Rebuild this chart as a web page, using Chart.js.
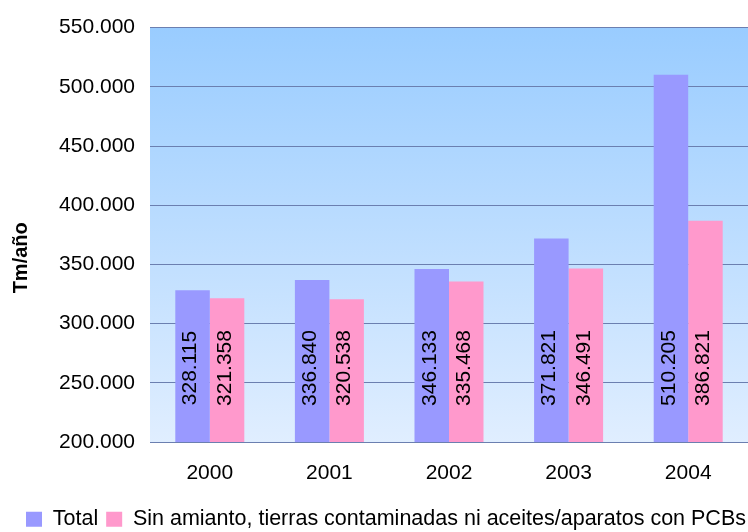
<!DOCTYPE html>
<html>
<head>
<meta charset="utf-8">
<script src="https://cdn.jsdelivr.net/npm/chart.js@4"></script>
<style>
  html, body { margin: 0; padding: 0; background: #ffffff; }
  #wrap { width: 748px; height: 532px; }
</style>
</head>
<body>
<div id="wrap"><canvas id="myChart"></canvas></div>
<script>
// Datos
const years = ['2000', '2001', '2002', '2003', '2004'];
const totalValues = [328115, 336840, 346133, 371821, 510205];
const sinAmiantoValues = [321358, 320538, 335468, 346491, 386821];
const seriesNames = ['Total', 'Sin amianto, tierras contaminadas ni aceites/aparatos con PCBs'];
const yTicks = [200000, 250000, 300000, 350000, 400000, 450000, 500000, 550000];
const yTitle = 'Tm/año';

const FONT = '"Liberation Sans", Arial, sans-serif';

// 550000 -> "550.000"
function formatMiles(v) {
    return String(Math.round(v)).replace(/\B(?=(\d{3})+(?!\d))/g, '.');
}

// Fondo degradado del area de trazado
const plotBackground = {
    id: 'plotBackground',
    beforeDraw(chart) {
        const { ctx, chartArea } = chart;
        const g = ctx.createLinearGradient(0, chartArea.top, 0, chartArea.bottom);
        g.addColorStop(0, '#99ccff');
        g.addColorStop(1, '#e0eeff');
        ctx.save();
        ctx.fillStyle = g;
        ctx.fillRect(chartArea.left, chartArea.top, chartArea.right - chartArea.left, chartArea.bottom - chartArea.top);
        ctx.restore();
    }
};

// Desplaza un poco la leyenda a la derecha (como en el original)
const legendShift = {
    id: 'legendShift',
    afterLayout(chart) {
        if (chart.legend) {
            chart.legend.left += 8;
            chart.legend.right += 8;
        }
    }
};

// Etiquetas verticales dentro de las barras + titulo del eje Y
const barLabels = {
    id: 'barLabels',
    afterDraw(chart) {
        const ctx = chart.ctx;
        const area = chart.chartArea;
        const base = chart.scales.y.bottom;
        ctx.save();
        ctx.font = '21px ' + FONT;
        ctx.fillStyle = '#000000';
        ctx.textAlign = 'center';
        ctx.textBaseline = 'middle';
        chart.data.datasets.forEach((ds, i) => {
            chart.getDatasetMeta(i).data.forEach((bar, j) => {
                ctx.save();
                ctx.translate(bar.x - 2, base - 74);
                ctx.rotate(-Math.PI / 2);
                ctx.fillText(formatMiles(ds.data[j]), 0, 0);
                ctx.restore();
            });
        });

        // Titulo del eje
        ctx.font = 'bold 20px ' + FONT;
        ctx.translate(21, (area.top + area.bottom) / 2 + 23);
        ctx.rotate(-Math.PI / 2);
        ctx.fillText(yTitle, 0, 0);
        ctx.restore();
    }
};

const config = {
    type: 'bar',
    data: {
        labels: years,
        datasets: [
            {
                label: seriesNames[0],
                data: totalValues,
                backgroundColor: '#9999ff',
            },
            {
                label: seriesNames[1],
                data: sinAmiantoValues,
                backgroundColor: '#ff99cc',
            },
        ],
    },
    options: {
        responsive: true,
        maintainAspectRatio: false,
        animation: false,
        layout: {
            padding: { top: 22, left: 8, right: 0, bottom: -8 },
        },
        datasets: {
            bar: {
                barPercentage: 1,
                categoryPercentage: 0.577,
            },
        },
        scales: {
            x: {
                grid: { display: false },
                border: { display: false },
                ticks: {
                    color: '#000000',
                    font: { family: FONT, size: 21 },
                    padding: 11,
                },
                afterFit(scale) { scale.height = 58.5; },
            },
            y: {
                min: 200000,
                max: 550000,
                afterBuildTicks(scale) {
                    scale.ticks = yTicks.map(v => ({ value: v }));
                },
                grid: {
                    color: '#6b7fb0',
                    lineWidth: 1,
                    drawTicks: false,
                },
                border: { display: false },
                ticks: {
                    color: '#000000',
                    font: { family: FONT, size: 21 },
                    padding: 15,
                    callback: (v) => formatMiles(v),
                },
                afterFit(scale) { scale.width = 142; },
            },
        },
        plugins: {
            legend: {
                position: 'bottom',
                labels: {
                    color: '#000000',
                    font: { family: FONT, size: 21.5 },
                    boxWidth: 16,
                    boxHeight: 15,
                    padding: 8,
                },
            },
            tooltip: { enabled: false },
        },
    },
    plugins: [plotBackground, legendShift, barLabels],
};

const myChart = new Chart(document.getElementById('myChart'), config);
</script>
</body>
</html>
